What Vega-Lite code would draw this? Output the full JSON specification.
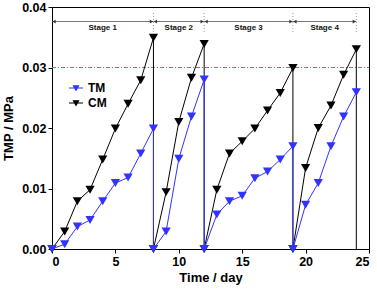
{
  "$schema": "https://vega.github.io/schema/vega-lite/v6.json",
  "width": 317,
  "height": 242,
  "autosize": "none",
  "padding": {"left": 52, "top": 7, "right": 8, "bottom": 43},
  "background": "white",
  "config": {
    "font": "Liberation Sans",
    "view": {"stroke": "black", "strokeWidth": 1},
    "axis": {
      "grid": false,
      "domainColor": "black",
      "tickColor": "black",
      "tickSize": 4,
      "labelFont": "Liberation Sans",
      "labelFontWeight": "bold",
      "labelFontSize": 12.5,
      "labelColor": "black",
      "titleFont": "Liberation Sans",
      "titleFontWeight": "bold",
      "titleFontSize": 13,
      "titleColor": "black"
    }
  },
  "datasets": {
    "tmp": [
      {"series": "CM", "ord": 1, "t": 0, "v": 0},
      {"series": "CM", "ord": 2, "t": 1, "v": 0.0029},
      {"series": "CM", "ord": 3, "t": 2, "v": 0.0079},
      {"series": "CM", "ord": 4, "t": 3, "v": 0.0098},
      {"series": "CM", "ord": 5, "t": 4, "v": 0.0148},
      {"series": "CM", "ord": 6, "t": 5, "v": 0.0199},
      {"series": "CM", "ord": 7, "t": 6, "v": 0.024},
      {"series": "CM", "ord": 8, "t": 7, "v": 0.0279},
      {"series": "CM", "ord": 9, "t": 8, "v": 0.0349},
      {"series": "CM", "ord": 10, "t": 8, "v": 0},
      {"series": "CM", "ord": 11, "t": 9, "v": 0.0094},
      {"series": "CM", "ord": 12, "t": 10, "v": 0.021},
      {"series": "CM", "ord": 13, "t": 11, "v": 0.0283},
      {"series": "CM", "ord": 14, "t": 12, "v": 0.0339},
      {"series": "CM", "ord": 15, "t": 12, "v": 0},
      {"series": "CM", "ord": 16, "t": 13, "v": 0.0098},
      {"series": "CM", "ord": 17, "t": 14, "v": 0.0158},
      {"series": "CM", "ord": 18, "t": 15, "v": 0.0178},
      {"series": "CM", "ord": 19, "t": 16, "v": 0.0199},
      {"series": "CM", "ord": 20, "t": 17, "v": 0.0229},
      {"series": "CM", "ord": 21, "t": 18, "v": 0.0258},
      {"series": "CM", "ord": 22, "t": 19, "v": 0.0299},
      {"series": "CM", "ord": 23, "t": 19, "v": 0},
      {"series": "CM", "ord": 24, "t": 20, "v": 0.0134},
      {"series": "CM", "ord": 25, "t": 21, "v": 0.02},
      {"series": "CM", "ord": 26, "t": 22, "v": 0.0237},
      {"series": "CM", "ord": 27, "t": 23, "v": 0.0288},
      {"series": "CM", "ord": 28, "t": 24, "v": 0.033},
      {"series": "TM", "ord": 1, "t": 0, "v": 0},
      {"series": "TM", "ord": 2, "t": 1, "v": 0.0008},
      {"series": "TM", "ord": 3, "t": 2, "v": 0.0037},
      {"series": "TM", "ord": 4, "t": 3, "v": 0.0048},
      {"series": "TM", "ord": 5, "t": 4, "v": 0.0079},
      {"series": "TM", "ord": 6, "t": 5, "v": 0.0109},
      {"series": "TM", "ord": 7, "t": 6, "v": 0.0118},
      {"series": "TM", "ord": 8, "t": 7, "v": 0.0158},
      {"series": "TM", "ord": 9, "t": 8, "v": 0.0199},
      {"series": "TM", "ord": 10, "t": 8, "v": 0},
      {"series": "TM", "ord": 11, "t": 9, "v": 0.0029},
      {"series": "TM", "ord": 12, "t": 10, "v": 0.0149},
      {"series": "TM", "ord": 13, "t": 11, "v": 0.0219},
      {"series": "TM", "ord": 14, "t": 12, "v": 0.028},
      {"series": "TM", "ord": 15, "t": 12, "v": 0},
      {"series": "TM", "ord": 16, "t": 13, "v": 0.0057},
      {"series": "TM", "ord": 17, "t": 14, "v": 0.0079},
      {"series": "TM", "ord": 18, "t": 15, "v": 0.0088},
      {"series": "TM", "ord": 19, "t": 16, "v": 0.0117},
      {"series": "TM", "ord": 20, "t": 17, "v": 0.0128},
      {"series": "TM", "ord": 21, "t": 18, "v": 0.0148},
      {"series": "TM", "ord": 22, "t": 19, "v": 0.017},
      {"series": "TM", "ord": 23, "t": 19, "v": 0},
      {"series": "TM", "ord": 24, "t": 20, "v": 0.0073},
      {"series": "TM", "ord": 25, "t": 21, "v": 0.0109},
      {"series": "TM", "ord": 26, "t": 22, "v": 0.017},
      {"series": "TM", "ord": 27, "t": 23, "v": 0.0219},
      {"series": "TM", "ord": 28, "t": 24, "v": 0.0259}
    ],
    "stages": [
      {"stage": "Stage 1", "start": 0, "end": 8, "mid": 4, "y": 0.0376},
      {"stage": "Stage 2", "start": 8, "end": 12, "mid": 10, "y": 0.0376},
      {"stage": "Stage 3", "start": 12, "end": 19, "mid": 15.5, "y": 0.0376},
      {"stage": "Stage 4", "start": 19, "end": 24, "mid": 21.5, "y": 0.0376}
    ],
    "bounds": [
      {"t": 8, "top": 0.039, "bot": 0.0358},
      {"t": 12, "top": 0.039, "bot": 0.0358},
      {"t": 19, "top": 0.039, "bot": 0.0358},
      {"t": 24, "top": 0.039, "bot": 0.0358}
    ],
    "limit": [{"v": 0.03, "t0": 0, "t1": 25}],
    "drop": [{"t": 24, "v": 0, "v2": 0.033}]
  },
  "layer": [
    {
      "data": {"name": "limit"},
      "mark": {"type": "rule", "color": "#d0507c", "strokeWidth": 1.2, "opacity": 1, "strokeDash": [4, 2, 1, 2]},
      "encoding": {
        "x": {"field": "t0", "type": "quantitative", "title": "Time / day"},
        "x2": {"field": "t1"},
        "y": {"field": "v", "type": "quantitative", "title": "TMP / MPa"}
      }
    },
    {
      "data": {"name": "bounds"},
      "mark": {"type": "rule", "color": "#8a9aa8", "strokeWidth": 1, "strokeDash": [1, 2]},
      "encoding": {
        "x": {"field": "t", "type": "quantitative", "title": "Time / day"},
        "y": {"field": "top", "type": "quantitative", "title": "TMP / MPa"},
        "y2": {"field": "bot"}
      }
    },
    {
      "data": {"name": "stages"},
      "mark": {"type": "rule", "color": "#555555", "strokeWidth": 0.8},
      "encoding": {
        "x": {"field": "start", "type": "quantitative", "title": "Time / day"},
        "x2": {"field": "end"},
        "y": {"field": "y", "type": "quantitative", "title": "TMP / MPa"}
      }
    },
    {
      "data": {"name": "stages"},
      "mark": {"type": "point", "shape": "triangle-left", "filled": true, "color": "#333333", "size": 14, "opacity": 1, "xOffset": 2},
      "encoding": {
        "x": {"field": "start", "type": "quantitative", "title": "Time / day"},
        "y": {"field": "y", "type": "quantitative", "title": "TMP / MPa"}
      }
    },
    {
      "data": {"name": "stages"},
      "mark": {"type": "point", "shape": "triangle-right", "filled": true, "color": "#333333", "size": 14, "opacity": 1, "xOffset": -2},
      "encoding": {
        "x": {"field": "end", "type": "quantitative", "title": "Time / day"},
        "y": {"field": "y", "type": "quantitative", "title": "TMP / MPa"}
      }
    },
    {
      "data": {"name": "stages"},
      "mark": {"type": "text", "fontSize": 8, "fontWeight": "bold", "color": "#111111", "baseline": "top", "dy": 2},
      "encoding": {
        "x": {"field": "mid", "type": "quantitative", "title": "Time / day"},
        "y": {"field": "y", "type": "quantitative", "title": "TMP / MPa"},
        "text": {"field": "stage"}
      }
    },
    {
      "data": {"name": "drop"},
      "mark": {"type": "rule", "color": "black", "strokeWidth": 1},
      "encoding": {
        "x": {"field": "t", "type": "quantitative", "title": "Time / day"},
        "y": {"field": "v", "type": "quantitative", "title": "TMP / MPa"},
        "y2": {"field": "v2"}
      }
    },
    {
      "data": {"name": "tmp"},
      "mark": {"type": "line", "strokeWidth": 1},
      "encoding": {
        "x": {"field": "t", "type": "quantitative", "title": "Time / day", "scale": {"domain": [0, 25], "nice": false},
              "axis": {"values": [0, 5, 10, 15, 20, 25], "titlePadding": 4, "labelPadding": 2}},
        "y": {"field": "v", "type": "quantitative", "title": "TMP / MPa", "scale": {"domain": [0, 0.04], "nice": false},
              "axis": {"values": [0, 0.01, 0.02, 0.03, 0.04], "format": ".2f", "titlePadding": 6, "labelPadding": 2}},
        "order": {"field": "ord", "type": "quantitative"},
        "detail": {"field": "series"},
        "color": {"field": "series", "type": "nominal", "scale": {"domain": ["TM", "CM"], "range": ["#3333ff", "#000000"]}}
      }
    },
    {
      "data": {"name": "tmp"},
      "mark": {"type": "point", "shape": "triangle-down", "filled": true, "size": 85, "opacity": 1},
      "encoding": {
        "x": {"field": "t", "type": "quantitative", "title": "Time / day"},
        "y": {"field": "v", "type": "quantitative", "title": "TMP / MPa"},
        "color": {
          "field": "series", "type": "nominal",
          "scale": {"domain": ["TM", "CM"], "range": ["#3333ff", "#000000"]},
          "legend": {
            "title": null,
            "orient": "none",
            "legendX": 18,
            "legendY": 75,
            "symbolType": "M-1.4,0H1.4M-0.5,-0.45L0.5,-0.45L0,0.45Z",
            "symbolSize": 100,
            "symbolStrokeWidth": 1.2,
            "labelFontSize": 12,
            "labelFontWeight": "bold",
            "labelColor": "black",
            "labelFont": "Liberation Sans",
            "labelOffset": 6,
            "rowPadding": 3
          }
        }
      }
    }
  ]
}
